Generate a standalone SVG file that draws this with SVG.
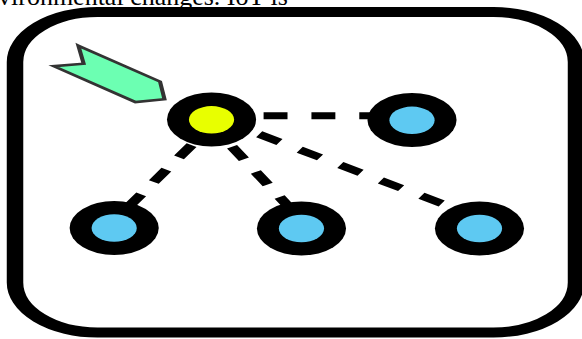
<svg xmlns="http://www.w3.org/2000/svg" width="582" height="339" viewBox="0 0 582 339">
<style>
.ring{fill:#000}
.core-y{fill:#E8FF00}
.core-b{fill:#5EC9F2}
.link{stroke:#000;stroke-width:7;stroke-dasharray:14.5 14.5;fill:none}
.frame{fill:#fff;stroke:#000;stroke-width:10}
.arrow{fill:#6CFFB2;stroke:#333;stroke-width:2.5;stroke-linejoin:miter}
.caption{font-family:"Liberation Serif","Times New Roman",serif;font-size:26px;fill:#000}
</style>
<rect width="582" height="339" fill="#fff"/>
<text class="caption" x="-2" y="5">vironmental changes. IoT is</text>
<g transform="scale(1.65,1)">
  <rect class="frame" x="9.1" y="12" width="340" height="320.5" rx="50"/>
  <g id="connectors">
    <line class="link" x1="130.75" y1="115.8" x2="249.7" y2="115.8"/>
    <line class="link" x1="131.4" y1="120.4" x2="64.7" y2="228"/>
    <line class="link" x1="126.2" y1="121.6" x2="187.2" y2="228"/>
    <line class="link" x1="132.5" y1="118.9" x2="290" y2="217.5"/>
  </g>
  <g id="arrow">
    <polygon class="arrow" points="47.5,45.7 97,81.6 99.7,99.3 82.1,102.1 32.6,66.2 50.7,63.8"/>
  </g>
  <g id="node-center">
    <circle class="ring" cx="128.2" cy="119.5" r="27"/>
    <circle class="core-y" cx="128.2" cy="119.8" r="13.7"/>
  </g>
  <g id="node-top-right">
    <circle class="ring" cx="249.7" cy="120" r="27"/>
    <circle class="core-b" cx="249.7" cy="120.3" r="13.7"/>
  </g>
  <g id="node-bottom-left">
    <circle class="ring" cx="69.2" cy="228" r="27"/>
    <circle class="core-b" cx="69.2" cy="228" r="13.7"/>
  </g>
  <g id="node-bottom-middle">
    <circle class="ring" cx="182.7" cy="228.5" r="27"/>
    <circle class="core-b" cx="182.7" cy="228.5" r="13.7"/>
  </g>
  <g id="node-bottom-right">
    <circle class="ring" cx="290.6" cy="228.5" r="27"/>
    <circle class="core-b" cx="290.6" cy="228.5" r="13.7"/>
  </g>
</g>
</svg>
